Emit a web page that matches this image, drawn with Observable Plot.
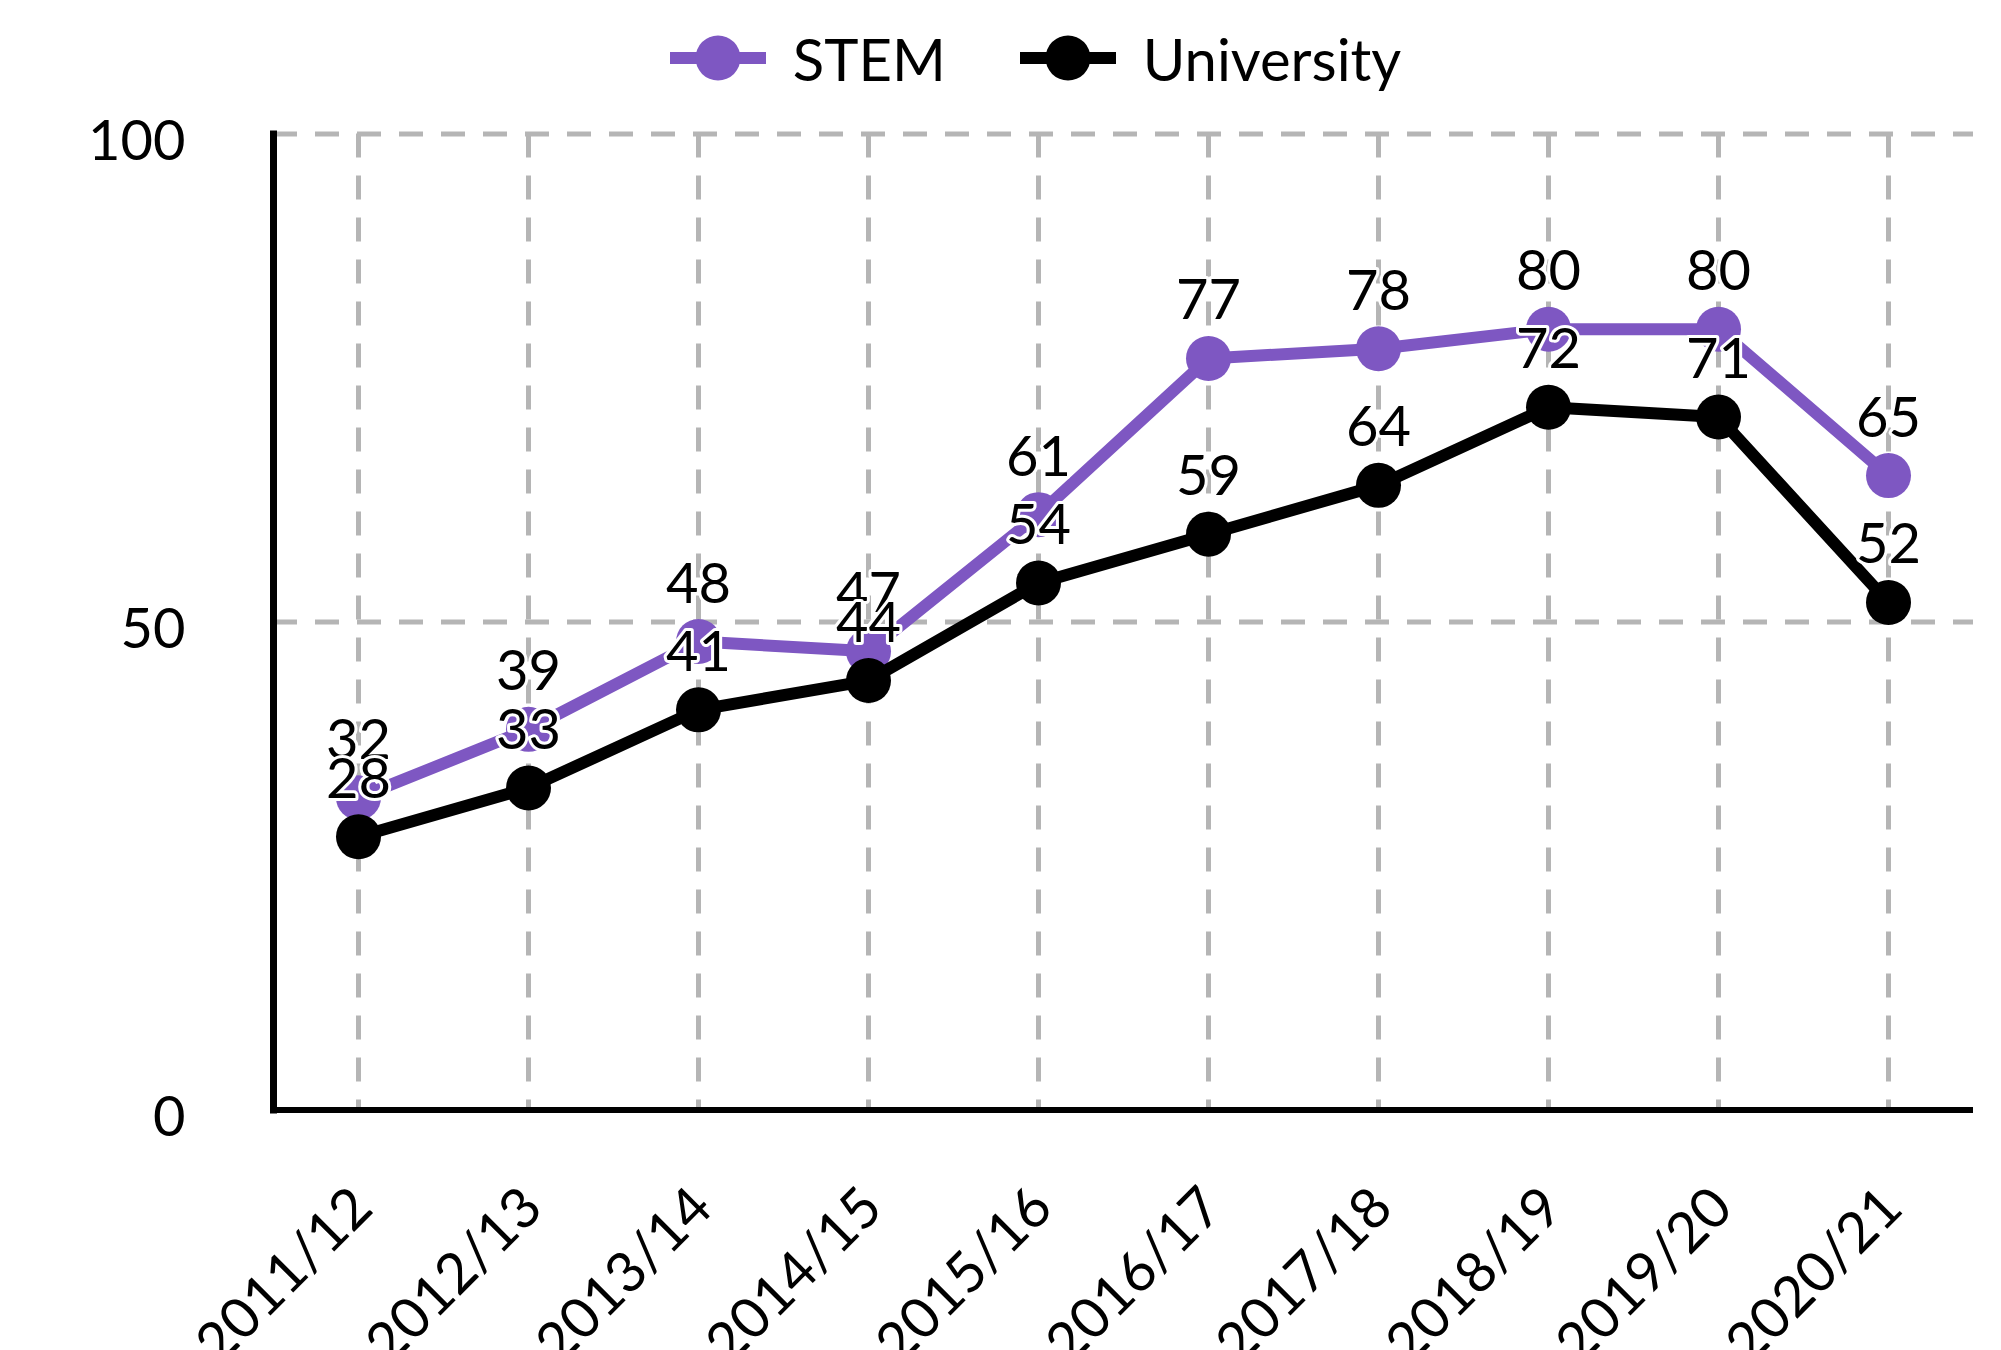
<!DOCTYPE html>
<html>
<head>
<meta charset="utf-8">
<script src="https://cdn.jsdelivr.net/npm/d3@7"></script>
<script src="https://cdn.jsdelivr.net/npm/@observablehq/plot@0.6"></script>
<style>
  html, body { margin: 0; padding: 0; background: #fff; width: 2001px; height: 1350px; overflow: hidden; }
  body { font-family: Lato, "Open Sans", sans-serif; }
  #legend { box-sizing: border-box; height: 100px; padding-top: 16px; padding-left: 70px; display: flex; justify-content: center; align-items: center; font-size: 58px; color: #000; }
  .item { display: flex; align-items: center; margin: 0 37px; }
  .item svg { margin-right: 27px; }
</style>
</head>
<body>
<div id="legend"></div>
<div id="chart"></div>
<script>
const years = ["2011/12","2012/13","2013/14","2014/15","2015/16","2016/17","2017/18","2018/19","2019/20","2020/21"];
const stem = [32, 39, 48, 47, 61, 77, 78, 80, 80, 65];
const university = [28, 33, 41, 44, 54, 59, 64, 72, 71, 52];
const seriesNames = ["STEM", "University"];
const seriesColors = ["#7e57c2", "#000000"];
const yTicks = [0, 50, 100];

const stemData = years.map((y, i) => ({year: y, value: stem[i]}));
const uniData = years.map((y, i) => ({year: y, value: university[i]}));

// Legend
const legend = document.getElementById("legend");
seriesNames.forEach((name, i) => {
  const item = document.createElement("div");
  item.className = "item";
  item.innerHTML = `<svg width="96" height="46"><line x1="0" x2="96" y1="23" y2="23" stroke="${seriesColors[i]}" stroke-width="12"/><circle cx="48" cy="23" r="22.5" fill="${seriesColors[i]}"/></svg><span>${name}</span>`;
  legend.appendChild(item);
});

const gridStyle = {stroke: "#b5b5b5", strokeOpacity: 1, strokeWidth: 5, strokeDasharray: "24,18"};
const labelStyle = {text: d => String(d.value), lineAnchor: "bottom", dy: -39, fill: "black", stroke: "white", strokeWidth: 6, fontSize: 56};

const chart = Plot.plot({
  width: 2001,
  height: 1250,
  marginTop: 33.5,
  marginBottom: 240.5,
  marginLeft: 273,
  marginRight: 28,
  style: {fontFamily: "Lato, sans-serif", fontSize: "56px", color: "black", background: "white", overflow: "visible"},
  x: {type: "point", domain: years, padding: 0.5, label: null},
  y: {domain: [0, 100], label: null},
  marks: [
    Plot.gridX(years, gridStyle),
    Plot.gridY([50, 100], gridStyle),
    Plot.axisY(yTicks, {tickSize: 0, tickPadding: 88, dy: 8, fontSize: 56, label: null}),
    Plot.axisX(years, {tickSize: 0, tickPadding: 88, dx: 4, tickRotate: -45, fontSize: 56, label: null}),
    Plot.frame({anchor: "left", stroke: "black", strokeWidth: 7}),
    Plot.ruleY([0], {stroke: "black", strokeWidth: 6}),
    Plot.lineY(stemData, {x: "year", y: "value", stroke: seriesColors[0], strokeWidth: 12}),
    Plot.dot(stemData, {x: "year", y: "value", r: 22.5, fill: seriesColors[0]}),
    Plot.lineY(uniData, {x: "year", y: "value", stroke: seriesColors[1], strokeWidth: 12}),
    Plot.dot(uniData, {x: "year", y: "value", r: 22.5, fill: seriesColors[1]}),
    Plot.text(stemData, {x: "year", y: "value", ...labelStyle}),
    Plot.text(uniData, {x: "year", y: "value", ...labelStyle})
  ]
});
document.getElementById("chart").appendChild(chart);
</script>
</body>
</html>
